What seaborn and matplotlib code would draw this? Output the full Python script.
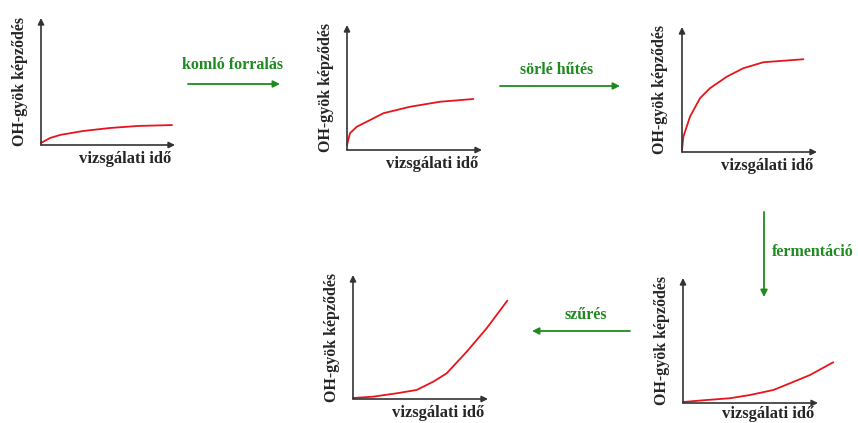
import matplotlib
matplotlib.use("Agg")
import matplotlib.pyplot as plt
import seaborn as sns

sns.set_style("white")
plt.rcParams["font.family"] = ["Liberation Serif", "DejaVu Serif"]
plt.rcParams["font.weight"] = "bold"

# curve readings, x and y on a 0..10 scale of each little diagram
x1 = [0, 0.67, 1.42, 3.13, 5.15, 7.24, 9.78]
y1 = [0.16, 0.55, 0.79, 1.10, 1.34, 1.50, 1.57]

x2 = [0, 0.22, 0.72, 1.46, 2.69, 4.67, 6.89, 9.36]
y2 = [0.4, 1.34, 1.86, 2.26, 2.94, 3.46, 3.86, 4.08]

x3 = [0, 0.10, 0.59, 1.33, 2.07, 3.31, 4.54, 6.02, 7.50, 8.99]
y3 = [0.16, 1.22, 2.82, 4.30, 5.10, 6.02, 6.70, 7.18, 7.30, 7.42]

x4 = [0, 1.76, 3.48, 4.96, 6.69, 7.93, 9.41, 11.13]
y4 = [0.08, 0.24, 0.38, 0.64, 1.04, 1.58, 2.24, 3.26]

x5 = [0, 1.50, 3.24, 4.72, 5.95, 6.94, 8.42, 9.90, 11.43]
y5 = [0.08, 0.19, 0.46, 0.73, 1.40, 2.07, 3.81, 5.70, 7.93]

ylabel = "OH-gyök képződés"
xlabel = "vizsgálati idő"

steps = ["komló forralás", "sörlé hűtés", "fermentáció", "szűrés"]

W, H = 858, 423
fig = plt.figure(figsize=(W / 100, H / 100), dpi=100)

green = "#1f8a1f"
red = "#e8141c"
axcol = "#333333"

# (origin x, origin y, width, height) in image pixels
boxes = [(41, 145, 134, 127), (347, 150, 135, 125), (682, 152, 135, 125),
         (683, 403, 135, 125), (353, 399, 135, 124)]
curves = [(x1, y1), (x2, y2), (x3, y3), (x4, y4), (x5, y5)]

for i, ((px, py, pw, ph), (cx, cy)) in enumerate(zip(boxes, curves)):
    ax = fig.add_axes([px / W, (H - py) / H, pw / W, ph / H])
    sns.lineplot(x=cx, y=cy, ax=ax, color=red, lw=1.3)
    for ln in ax.lines:
        ln.set_clip_on(False)
    ax.set_xlim(0, 10)
    ax.set_ylim(0, 10)
    for s in ax.spines.values():
        s.set_visible(False)
    ax.set_xticks([])
    ax.set_yticks([])
    ax.patch.set_alpha(0)
    ax.annotate("", xy=(1, 0), xytext=(0, 0), xycoords="axes fraction",
                arrowprops=dict(arrowstyle="-|>", color=axcol, lw=1.2,
                                mutation_scale=9, shrinkA=0, shrinkB=0))
    ax.annotate("", xy=(0, 1), xytext=(0, 0), xycoords="axes fraction",
                arrowprops=dict(arrowstyle="-|>", color=axcol, lw=1.2,
                                mutation_scale=9, shrinkA=0, shrinkB=0))
    ax.set_xlabel(xlabel, fontsize=12, fontweight="bold", ha="right", va="top")
    # the bottom-right diagram sits on the lower edge
    ax.xaxis.set_label_coords(0.97, -0.02 if i == 3 else -0.05)
    ax.set_ylabel(ylabel, fontsize=11.5, fontweight="bold")
    ax.yaxis.set_label_coords(-0.10, 0.5)

# overlay in image pixels for the process arrows
ov = fig.add_axes([0, 0, 1, 1])
ov.set_xlim(0, W)
ov.set_ylim(H, 0)
ov.axis("off")
ov.patch.set_alpha(0)

arrows = [((188, 84), (280, 84)), ((500, 86), (620, 86)),
          ((764, 212), (764, 297)), ((630, 331), (532, 331))]
label_pos = [(233, 65, "center"), (557, 70, "center"),
             (772, 252, "left"), (586, 315, "center")]

for (a, b), (tx, ty, ha), txt in zip(arrows, label_pos, steps):
    ov.annotate("", xy=b, xytext=a,
                arrowprops=dict(arrowstyle="-|>", color=green, lw=1.3,
                                mutation_scale=10, shrinkA=0, shrinkB=0))
    ov.text(tx, ty, txt, color=green, fontsize=11.5, fontweight="bold",
            ha=ha, va="center")

fig.savefig("out.png", dpi=100)
